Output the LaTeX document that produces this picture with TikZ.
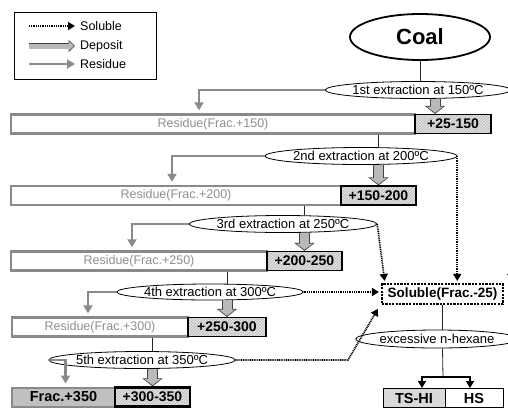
\documentclass[tikz,border=0pt]{standalone}
\usepackage{fontspec}
\setmainfont{Liberation Sans}
\usetikzlibrary{arrows.meta,shapes.geometric,patterns}
\definecolor{residueGray}{HTML}{8A8A8A}
\definecolor{residueText}{HTML}{8E8E8E}
\definecolor{fracGray}{HTML}{C0C0C0}

\begin{document}
\begin{tikzpicture}[x=1pt, y=-1pt,
  stage/.style={ellipse, draw=black, line width=0.8pt, inner sep=0pt, minimum width=155pt, minimum height=17pt, font=\fontsize{13}{14}\selectfont},
  residuebox/.style={rectangle, draw=residueGray, line width=2.4pt, inner sep=0pt, minimum height=19pt, text=residueText, font=\fontsize{12.5}{14}\selectfont},
  depositbox/.style={rectangle, draw=black, line width=1.2pt, inner sep=0pt, minimum width=75pt, minimum height=19pt, preaction={fill=gray!22}, pattern=north east lines, pattern color=gray!60, font=\bfseries\fontsize{14}{16}\selectfont},
  keytext/.style={anchor=west, inner sep=0pt, font=\fontsize{12.5}{14}\selectfont},
  link/.style={draw=black!85, line width=0.8pt},
  soluble/.style={draw=black, line width=1.7pt, dash pattern=on 1pt off 0.8pt, -{Triangle[width=8pt,length=7pt]}, shorten >=2pt},
  residue/.style={draw=residueGray, line width=2.4pt, -{Triangle[width=9pt,length=8pt]}},
  deposit/.style={line width=9pt, draw=gray!55, -{Triangle[width=16pt,length=6pt]}, shorten >=1.2pt,
    preaction={draw=black!75, line width=11pt, -{Triangle[width=20pt,length=8pt]}, shorten >=0pt}},
  depositkey/.style={line width=5pt, draw=gray!55, -{Triangle[width=9pt,length=5pt]}, shorten >=1pt,
    preaction={draw=black!75, line width=6.6pt, -{Triangle[width=12pt,length=6.5pt]}, shorten >=0pt}},
  branch/.style={draw=black, line width=1.2pt, -{Triangle[width=8pt,length=7pt]}},
]
\useasboundingbox (0,0) rectangle (508,408);

\node[draw, line width=0.9pt, minimum width=142pt, minimum height=67pt, inner sep=0pt] (legend) at (85,45.5) {};
\coordinate (keySolA) at (29,26);
\coordinate (keySolB) at (75,26);
\coordinate (keyDepA) at (29,46);
\coordinate (keyDepB) at (75,46);
\coordinate (keyResA) at (29,64);
\coordinate (keyResB) at (75,64);
\draw[soluble, shorten >=0pt] (keySolA) -- (keySolB);
\draw[depositkey] (keyDepA) -- (keyDepB);
\draw[residue] (keyResA) -- (keyResB);
\node[keytext] (keySol) at (80,26) {Soluble};
\node[keytext] (keyDep) at (80,46) {Deposit};
\node[keytext] (keyRes) at (80,64) {Residue};

\node[ellipse, draw, line width=1.8pt, inner sep=0pt, minimum width=140pt, minimum height=46pt, font=\bfseries\fontsize{22}{24}\selectfont] (coal) at (420,37) {Coal};

\node[stage, minimum width=157pt] (e1) at (418,90) {1st extraction at 150ºC};
\node[residuebox, minimum width=404pt] (r1) at (213,124) {Residue(Frac.+150)};
\node[depositbox, minimum width=76pt] (d1) at (453,124) {+25-150};

\node[stage, minimum width=151pt] (e2) at (361,156) {2nd extraction at 200ºC};
\node[residuebox, minimum width=330pt] (r2) at (176,195.5) {Residue(Frac.+200)};
\node[depositbox] (d2) at (378.5,195.5) {+150-200};

\node[stage, minimum width=157pt] (e3) at (283,224) {3rd extraction at 250ºC};
\node[residuebox, minimum width=256pt] (r3) at (139,261) {Residue(Frac.+250)};
\node[depositbox] (d3) at (304.5,261) {+200-250};

\node[stage, minimum width=154pt, minimum height=16pt] (e4) at (210,292) {4th extraction at 300ºC};
\node[residuebox, minimum width=176pt] (r4) at (100,327) {Residue(Frac.+300)};
\node[depositbox, minimum width=78pt] (d4) at (227,327) {+250-300};

\node[stage] (e5) at (142,360) {5th extraction at 350ºC};
\node[rectangle, draw=residueGray, fill=fracGray, line width=2pt, inner sep=0pt, minimum width=103pt, minimum height=19pt, font=\bfseries\fontsize{14.5}{16}\selectfont] (f5) at (63.5,397) {Frac.+350};
\node[depositbox, line width=2.4pt] (d5) at (152.5,397) {+300-350};

\node[draw=black, line width=2.2pt, dash pattern=on 2.2pt off 1.2pt, inner sep=0pt, minimum width=121pt, minimum height=20pt, font=\bfseries\fontsize{13.5}{15}\selectfont] (sol) at (442.5,294) {Soluble(Frac.-25)};
\node[stage, minimum width=132pt, minimum height=18pt] (hex) at (437,339) {excessive n-hexane};
\coordinate (split) at (443,377);
\node[draw, line width=0.8pt, fill=gray!30, inner sep=0pt, minimum width=62pt, minimum height=19pt, font=\bfseries\fontsize{14.5}{16}\selectfont] (tshi) at (414,398) {TS-HI};
\node[draw, line width=0.8pt, fill=white, inner sep=0pt, minimum width=58pt, minimum height=19pt, font=\bfseries\fontsize{14.5}{16}\selectfont] (hs) at (474,398) {HS};

\draw[link, line width=1pt] (coal.south) -- (coal.south |- e1.north);
\draw[deposit] ([xshift=17pt]e1.south) -- ([xshift=17pt]e1.south |- d1.north);
\foreach \r/\e/\d in {r1/e2/d2, r2/e3/d3, r3/e4/d4, r4/e5/d5} {
  \draw[link] (\r.south -| \d.north) -- (\e.north -| \d.north);
  \draw[deposit] (\e.south -| \d.north) -- (\d.north);
}

\draw[residue, shorten >=3pt] (e1.west) -| ([xshift=-14pt]r1.north);
\draw[residue, shorten >=3pt] (e2.west) -| ([xshift=-4pt]r2.north);
\draw[residue, shorten >=3pt] (e3.west) -| ([xshift=-7pt]r3.north);
\draw[residue, shorten >=3pt] (e4.west) -| ([xshift=-12pt]r4.north);
\draw[residue, shorten >=3pt] (e5.west) -| ([xshift=2pt]f5.north);

\coordinate (bend5) at (348,360);
\draw[soluble] (e1.east) -- (e1.east |- sol.north);
\draw[soluble] (e2.east) -- (e2.east |- sol.north);
\draw[soluble] (e3.east) -- ([xshift=4pt]sol.north west);
\draw[soluble] (e4.east) -- (e4.east -| sol.west);
\draw[soluble] (e5.east) -- (bend5) -- ([xshift=-2pt,yshift=-2pt]sol.south west);

\draw[link] (sol.south) -- (sol.south |- hex.north);
\draw[link] (sol.south |- hex.south) -- (split);
\draw[branch] (split) -| ([xshift=8pt]tshi.north);
\draw[branch] (split) -| ([xshift=-4pt]hs.north);
\end{tikzpicture}
\end{document}
